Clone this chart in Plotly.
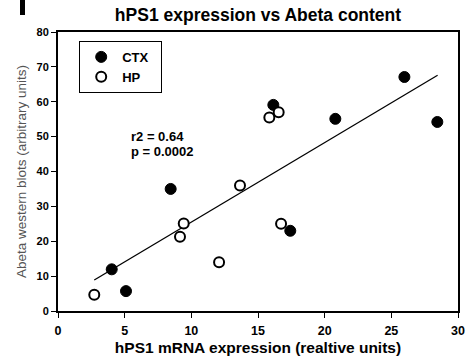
import plotly.graph_objects as go

# Data
ctx_x = [4.03, 5.1, 8.45, 16.15, 17.42, 20.8, 25.98, 28.45]
ctx_y = [11.95, 5.7, 35.0, 59.1, 23.0, 55.1, 67.1, 54.2]
hp_x = [2.72, 9.15, 9.43, 12.08, 13.65, 15.85, 16.55, 16.73]
hp_y = [4.67, 21.3, 25.1, 14.0, 36.0, 55.5, 57.0, 25.0]
fit_x = [2.72, 28.47]
fit_y = [8.9, 67.6]
x_ticks = [0, 5, 10, 15, 20, 25, 30]
y_ticks = [0, 10, 20, 30, 40, 50, 60, 70, 80]
stats_text = ["r2 = 0.64", "p = 0.0002"]
stats_y = [50.0, 45.7]

FONT = "Liberation Sans, Arial, sans-serif"

fig = go.Figure()
fig.add_trace(go.Scatter(x=fit_x, y=fit_y, mode="lines",
                         line=dict(color="black", width=1.3), showlegend=False,
                         hoverinfo="skip"))
fig.add_trace(go.Scatter(x=ctx_x, y=ctx_y, mode="markers", name="<b>CTX</b>\u00a0\u00a0",
                         marker=dict(symbol="circle", size=11, color="black",
                                     line=dict(color="black", width=1))))
fig.add_trace(go.Scatter(x=hp_x, y=hp_y, mode="markers", name="<b>HP</b>",
                         marker=dict(symbol="circle", size=10, color="white",
                                     line=dict(color="black", width=2))))

for t, yv in zip(stats_text, stats_y):
    fig.add_annotation(x=5.33, y=yv, xref="x", yref="y", xanchor="left", yanchor="middle",
                       text=f"<b>{t}</b>", showarrow=False,
                       font=dict(family=FONT, size=13, color="black"))

# cropped panel letter fragment at top-left
fig.add_shape(type="rect", xref="paper", yref="paper", x0=-0.095, x1=-0.0825,
              y0=1.061, y1=1.12, fillcolor="black", line=dict(width=0))

fig.update_layout(
    width=466, height=362,
    margin=dict(l=58, r=8, t=32, b=51, autoexpand=False),
    paper_bgcolor="white", plot_bgcolor="white",
    font=dict(family=FONT, color="black"),
    title=dict(text="<b>hPS1 expression vs Abeta content</b>",
               x=0.5536, xanchor="center", y=0.959, yanchor="middle",
               font=dict(family=FONT, size=17.5, color="black")),
    legend=dict(x=0.053, y=0.968, xanchor="left", yanchor="top",
                bordercolor="black", borderwidth=1, bgcolor="white",
                font=dict(family=FONT, size=13, color="black"),
                itemwidth=32, tracegroupgap=0),
    showlegend=True,
)
fig.update_xaxes(range=[0, 30], tickvals=x_ticks, ticktext=[f"<b>{v}</b>" for v in x_ticks],
                 ticks="outside", ticklen=5, tickwidth=1, tickcolor="black",
                 ticklabelstandoff=2,
                 showline=True, linecolor="black", linewidth=2, mirror=True,
                 showgrid=False, zeroline=False, automargin=False,
                 tickfont=dict(family=FONT, size=12.5, color="black"),
                 title=dict(text="<b>hPS1 mRNA expression (realtive units)</b>",
                            font=dict(family=FONT, size=15.5, color="black"), standoff=5))
fig.update_yaxes(range=[0, 80], tickvals=y_ticks, ticktext=[f"<b>{v}</b>" for v in y_ticks],
                 ticks="outside", ticklen=5, tickwidth=1, tickcolor="black",
                 showline=True, linecolor="black", linewidth=2, mirror=True,
                 showgrid=False, zeroline=False, automargin=False,
                 tickfont=dict(family=FONT, size=11, color="black"),
                 title=dict(text="Abeta western blots (arbitrary units)",
                            font=dict(family=FONT, size=13.5, color="#555"), standoff=7))

fig.write_html("out.html", config={"displayModeBar": False},
               post_script="document.body.style.margin='0';")
